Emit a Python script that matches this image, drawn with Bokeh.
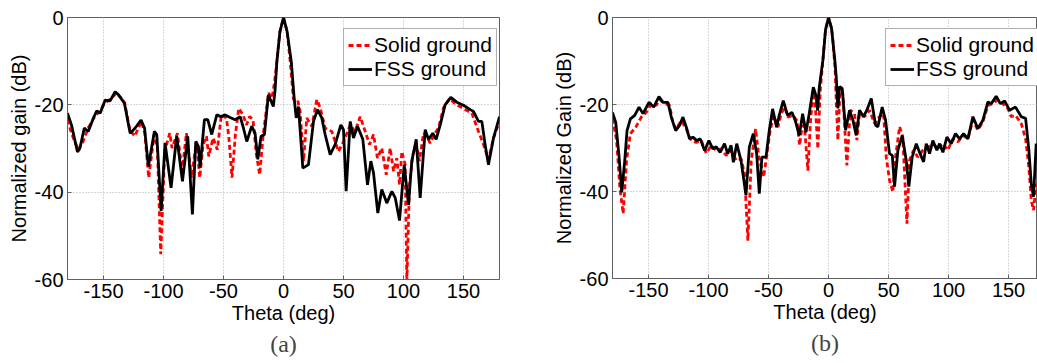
from bokeh.plotting import figure
from bokeh.layouts import row
from bokeh.models import Title, FixedTicker, PrintfTickFormatter
from bokeh.embed import file_html
from bokeh.resources import INLINE

# ---------------- data: panel (a) ----------------
theta_a_fss = [-180, -176.7, -171.7, -169.7, -166, -162.7, -158.4, -155.6, -152.8, -148.6, -144.5, -140.3,
               -137.5, -132.6, -127.8, -123.6, -118.7, -115.8, -112.6, -107.6, -105.6, -102, -98.7, -93.7,
               -89, -84.2, -79.8, -75.9, -73.1, -70.9, -69.5, -65.9, -63.1, -59.8, -55.6, -52, -48.6, -44.5,
               -40.3, -36.1, -33.4, -30.6, -26.5, -23.7, -21.4, -18.7, -15.9, -12.6, -8.5, -7, -5.5, -3, 0,
               3, 6.5, 8.9, 10.6, 12.5, 16.1, 20.8, 25, 28.3, 31.9, 34.7, 38.9, 43, 47.8, 50, 52.2, 55.6,
               58.3, 61.7, 66.1, 70, 72.8, 75, 78.6, 81.9, 86.1, 90.3, 93.1, 96.7, 100.6, 104.2, 106.9,
               110.6, 113.9, 118.1, 120.8, 124.4, 127.2, 130.6, 134.7, 139.4, 144.4, 150, 155.6, 158.3,
               162.5, 165.3, 168, 170.8, 175, 180]
gain_a_fss = [-21.9, -24.6, -30.8, -30, -25.3, -26.1, -23, -21.4, -21.9, -18.9, -19.1, -17,
              -17.7, -19.6, -26.5, -25.3, -23.5, -25.3, -34.1, -26.1, -26.8, -44.3, -28.7, -39,
              -27.2, -37.5, -27.2, -45.1, -28.4, -29.5, -34.4, -23.4, -23.4, -26.8, -22.3, -22.7, -22.3, -22.9,
              -23.4, -22.7, -25.3, -28.4, -24.9, -26.5, -32.5, -27.2, -26.8, -17.7, -20.4, -16.6, -10, -3.3, 0,
              -3.2, -10.1, -18.5, -23, -20.4, -34.5, -33.7, -23.8, -21.1, -23, -26.8, -31.4, -29.1, -24.6, -25.7, -39.8, -23.8,
              -27.6, -24.9, -27.9, -38.3, -32.9, -35.6, -44.8, -39.4, -42.5, -39.8, -41.3, -46.5, -33.7, -42.9, -32.9,
              -27.9, -41.3, -25.7, -27.9, -26.5, -27.9, -24.6, -20, -18.3, -19.4, -20.1, -21.1, -21.5,
              -23.8, -23.8, -29.1, -33.7, -27.6, -22.7]

theta_a_solid = [-180, -176.7, -171.1, -167, -162.8, -157.3, -153.1, -149, -143.4, -139.3, -135.1, -132.3,
                 -128.1, -124, -118.4, -115.6, -112.3, -107.8, -105.1, -102.3, -99, -94.8, -92.9, -88.4,
                 -84.5, -80.9, -76.7, -72.5, -69.8, -67, -64.2, -62.3, -58.7, -55.1, -51.8, -47.6, -45.6,
                 -42.9, -40.1, -37.3, -33.7, -30.9, -28.2, -25.4, -22.6, -19.8, -17.1, -12.4, -9.6, -7.4,
                 -5.5, -3, 0, 3, 5.6, 8.3, 11.7, 13.9, 16.7, 19.4, 23.6, 27.8, 30.6, 34.7, 40.3, 45.8, 50,
                 55.6, 59.7, 63.9, 68.1, 71.7, 75, 78.3, 81.9, 85.6, 88.9, 91.7, 94.4, 96.7, 98.6, 101.4,
                 102.8, 105, 107.8, 110.6, 113.3, 116.7, 119.4, 122.2, 125.6, 129.2, 133.3, 138.3, 144.4,
                 151.4, 156.9, 162.5, 166.7, 170.8, 175, 180]
gain_a_solid = [-23.4, -26.5, -30.3, -28.4, -25.3, -22.7, -21.5, -19.6, -18.5, -17.3, -18.5, -19.6,
                -25.7, -27.2, -23.8, -26.5, -36.7, -26.8, -29.9, -54.2, -30.6, -26.5, -29.9, -26.5,
                -35.2, -26.5, -36.7, -28.4, -36.7, -29.1, -27.2, -31.8, -27.6, -30.3, -22.3, -23, -27.2,
                -36.7, -26.8, -20.8, -22.3, -24.6, -22.7, -23.4, -31.4, -36, -27.2, -17.3, -18.5, -14.7,
                -10, -3.3, 0, -3.2, -10.1, -18.8, -18.8, -21.5, -32.9, -23, -24.9, -18.8, -20.7, -25.3, -26.1, -30.7, -28.4,
                -24.6, -26.1, -22.7, -26.1, -29.1, -26.8, -32.2, -29.9, -36, -29.9, -35.2, -32.2, -38.3, -30.7, -33.7,
                -60.5, -38.3, -31.4, -29.1, -32.9, -26.5, -27.2, -28.8, -26.8, -25.3, -20.7, -18.6, -20,
                -21.1, -21.9, -26.1, -29.1, -32.6, -27.6, -23.8]

# ---------------- data: panel (b) ----------------
theta_b_fss = [-180, -177.3, -174.5, -172.3, -169.8, -167.9, -165.1, -161.5, -157.9, -154.6, -149.6, -145.7,
               -141.3, -137.9, -133.8, -131, -127.4, -124.1, -121.3, -118.5, -115.8, -113, -109.7, -106.9,
               -103.3, -99.7, -96.4, -93.6, -90.3, -86.7, -84, -81.2, -79.3, -76.5, -72.9, -68.8, -66,
               -62.7, -59.9, -57.7, -55.5, -52.1, -49.4, -46.6, -43.3, -41.1, -37.7, -34.1, -30.5, -27.7,
               -24.4, -21.6, -18.8, -16.1, -12.7, -10.5, -9.1, -7.7, -4.7, -2.5, 0, 2.5, 5.3, 6.4, 7.8,
               9.2, 11.4, 14.2, 17.5, 20.3, 23.1, 25.8, 29.2, 31.9, 35.6, 39.2, 41.1, 44.7, 47.5, 50.8,
               53.1, 55, 57.8, 61.4, 64.7, 66.9, 69.7, 73.1, 75.8, 79.2, 81.4, 84.2, 86.9, 90.3, 92.5,
               95.3, 98.6, 102.2, 105.8, 109.2, 112.5, 116.1, 120.3, 124.4, 128.6, 132.8, 135.6, 139.7,
               143.1, 146.7, 150.8, 155.8, 160.6, 164.2, 166.9, 168.9, 170.8, 173]
gain_b_fss = [-21.8, -24.1, -32.1, -40.2, -32.9, -26, -23.3, -22.5, -20.6, -22.1, -19.5, -20.6,
              -18.2, -19.5, -19.5, -22.9, -26, -24.8, -22.9, -25.2, -27.9, -27.5, -28.3, -27.9,
              -30.6, -28.3, -30.2, -29.7, -31, -29, -31.3, -29.4, -33.3, -29, -32.9, -40.9, -29.8,
              -26.7, -31.3, -40.5, -32.1, -32.1, -26, -21, -25.2, -22.5, -19.1, -22.5, -21.8, -23.7,
              -27.1, -22.1, -26.4, -22.1, -16, -17.9, -21.4, -16, -9.8, -2.8, 0, -2.5, -10, -13.6, -20.9,
              -15.9, -16.3, -25.9, -21.3, -23.6, -27.1, -21.3, -22.8, -21.3, -18.6, -24.8, -25.1, -20.6, -23.6, -31.3,
              -31.7, -38.9, -30.5, -27.1, -32.8, -38.9, -32.1, -29, -31, -33.2, -29, -31.3, -28.3, -30.5, -29,
              -31, -27.5, -29, -26.7, -27.9, -26.7, -27.9, -22.8, -25.5, -23.6, -19.4, -19.8, -18.1,
              -19.8, -19.2, -21.3, -20.6, -22.8, -23.2, -30.5, -38.2, -41.2, -29]

theta_b_solid = [-180, -176.6, -173.9, -171.1, -168.3, -165.1, -160.6, -156, -151.8, -147.6, -143.5, -140.7,
                 -136.5, -132.4, -129.6, -126.8, -122.7, -118.5, -114.4, -110.2, -106, -101.9, -97.7, -93.6,
                 -89.4, -85.3, -81.1, -76.9, -72.8, -70, -67.2, -64.4, -60.8, -58, -54.1, -51.9, -48.6,
                 -45.8, -42.2, -39.4, -36.6, -33.8, -29.7, -26.3, -24.1, -21.9, -20, -17.2, -15, -12.5,
                 -10.8, -8.9, -6.9, -4.7, -2.5, 0, 2.5, 3.6, 5.5, 6.5, 7.8, 9.7, 11.9, 15.3, 18.1, 21.7,
                 23.6, 25.8, 30, 34.2, 38.3, 42.5, 45.8, 48.1, 50.8, 53.6, 55.8, 59.2, 61.9, 65.3, 67.5,
                 70.8, 74.4, 78.6, 82.8, 86.9, 91.1, 95.3, 99.4, 103.6, 107.8, 112, 116.1, 120.3, 124.4,
                 128.6, 132.8, 136.9, 141.1, 145.3, 149.4, 152.2, 155.8, 160.6, 164.2, 166.9, 168.9, 170.8, 173]
gain_b_solid = [-23.3, -28.3, -39, -45.1, -32.9, -26.7, -25.2, -22.9, -21.8, -19.8, -20.2, -18.9,
                -19.8, -20.2, -24.4, -25.6, -23.7, -25.6, -28.3, -28.7, -28.3, -31.2, -29.4, -30.6,
                -30.2, -31.7, -30.6, -32.9, -32.5, -35.9, -51.3, -32.9, -25.6, -32.1, -36.7, -32.5, -26,
                -22.5, -25.2, -22.1, -20.6, -22.9, -22.5, -23.7, -29.4, -24.8, -25.2, -35.2, -23.7, -16.4,
                -21.4, -30.2, -16.8, -9.8, -2.8, 0, -2.5, -5.2, -12, -20, -28.2, -15.9, -17.5, -34, -21.3, -22.1,
                -28.2, -22.1, -22.8, -21.3, -24.4, -22.8, -22.1, -32.1, -37.4, -40.1, -32.1, -25.1, -27.5, -47.4, -32.8,
                -30.5, -32.1, -30.5, -29.8, -29, -30.1, -29, -30.5, -27.9, -28.6, -27.1, -27.9, -23.6, -25.9,
                -24, -20.2, -19.8, -18.9, -19.9, -20.9, -22.8, -22.5, -24.4, -27.9, -34.4, -42, -44.3, -38.2]

x_ticks = [-150, -100, -50, 0, 50, 100, 150]
y_ticks = [-60, -40, -20, 0]
series_names = ["Solid ground", "FSS ground"]

FONT = "Liberation Sans"


def make_panel(xs_s, ys_s, xs_f, ys_f, ylabel, caption, x_end, fw, border_left, border_right,
               border_top, fh, legend_x):
    p = figure(frame_width=fw, frame_height=fh, x_range=(-180, x_end), y_range=(-60, 0),
               output_backend="svg", toolbar_location=None, title=None,
               min_border_left=border_left, min_border_right=border_right,
               min_border_top=border_top, min_border_bottom=10)
    p.background_fill_color = "white"
    p.border_fill_color = "white"
    p.outline_line_color = "#606060"
    p.outline_line_width = 1

    p.line(xs_s, ys_s, line_color="#ff0000", line_width=2.8, line_dash="5 3",
           legend_label=series_names[0])
    p.line(xs_f, ys_f, line_color="black", line_width=2.8, legend_label=series_names[1])

    p.xaxis.ticker = FixedTicker(ticks=x_ticks)
    p.yaxis.ticker = FixedTicker(ticks=y_ticks)
    p.xaxis.formatter = PrintfTickFormatter(format="%d")
    p.yaxis.formatter = PrintfTickFormatter(format="%d")
    p.xaxis.axis_label = "Theta (deg)"
    p.yaxis.axis_label = ylabel
    for ax in (p.xaxis, p.yaxis):
        ax.axis_label_text_font = FONT
        ax.axis_label_text_font_style = "normal"
        ax.axis_label_text_font_size = "20px"
        ax.axis_label_text_color = "black"
        ax.major_label_text_font = FONT
        ax.major_label_text_font_size = "20px"
        ax.major_label_text_color = "black"
        ax.axis_line_color = "#606060"
        ax.major_tick_line_color = "#606060"
        ax.major_tick_in = 4
        ax.major_tick_out = 0
        ax.minor_tick_line_color = None
        ax.major_label_standoff = 4
        ax.axis_label_standoff = 2
    p.xaxis.axis_label_standoff = 1

    p.grid.grid_line_color = "#b0b0b0"
    p.grid.grid_line_dash = "1 2"
    p.grid.grid_line_width = 1

    lg = p.legend[0]
    lg.location = (legend_x, fh - 69)
    lg.margin = 0
    lg.padding = 4
    lg.spacing = 0
    lg.glyph_width = 24
    lg.glyph_height = 24
    lg.label_height = 24
    lg.label_standoff = 2
    lg.label_text_font = FONT
    lg.label_text_font_size = "21px"
    lg.label_text_color = "black"
    lg.border_line_color = "#606060"
    lg.border_line_width = 1
    lg.background_fill_color = "white"
    lg.background_fill_alpha = 1.0

    p.add_layout(Title(text=caption, align="center", text_font="Liberation Serif",
                       text_font_size="24px", text_font_style="normal", standoff=4), "below")
    return p


pa = make_panel(theta_a_solid, gain_a_solid, theta_a_fss, gain_a_fss,
                "Normalized gain (dB)", "(a)", 180, 432, 67, 31, 16, 262, 276)
pb = make_panel(theta_b_solid, gain_b_solid, theta_b_fss, gain_b_fss,
                "Normalized Gain (dB)", "(b)", 174.1, 425, 82, 0, 17, 261, 273)

layout = row(pa, pb)
open("out.html", "w").write(file_html(layout, INLINE))
